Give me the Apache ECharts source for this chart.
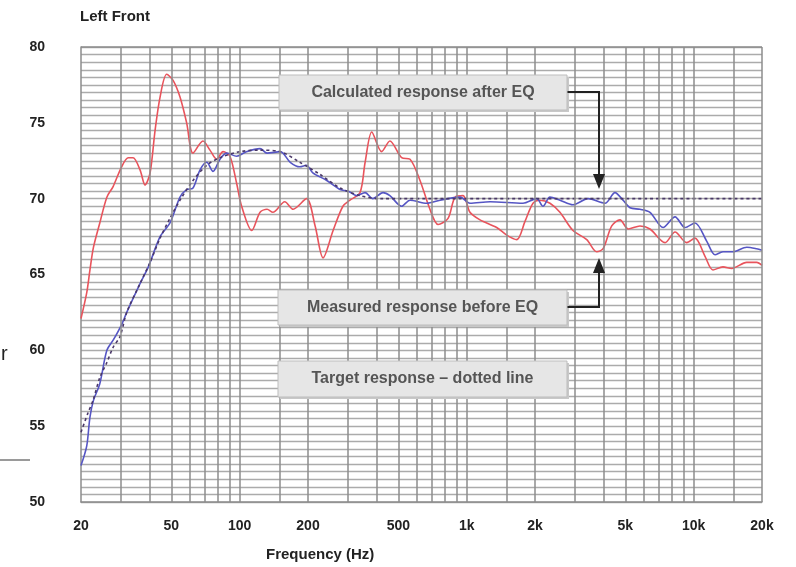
<!DOCTYPE html>
<html>
<head>
<meta charset="utf-8">
<title>Left Front</title>
<script src="https://cdn.jsdelivr.net/npm/echarts@6/dist/echarts.min.js"></script>
<style>
  html, body { margin: 0; padding: 0; background: #fff; }
  #main { width: 796px; height: 567px; }
</style>
</head>
<body>
<div id="main"></div>
<script>
// frequency (Hz) / level (dB)
const measuredFreq = [20, 21.2, 21.9, 22.7, 24.2, 26.0, 27.7, 30.2, 32.3, 33.9, 36.4, 38.3, 40.3, 42.4, 44.6, 47.7, 50.9, 54.6, 58.4, 62.3, 68.9, 74, 79.2, 84.5, 90.6, 97, 102, 113, 123, 132, 140, 158, 172, 197, 215, 233, 258, 285, 306, 339, 357, 382, 422, 459, 517, 563, 623, 689, 748, 828, 889, 964, 1034, 1145, 1356, 1501, 1661, 1807, 1960, 2104, 2328, 2576, 2940, 3380, 3740, 3990, 4356, 4736, 5152, 5802, 6420, 7480, 8280, 9312, 10136, 11220, 12160, 13460, 14710, 17130, 18950, 20000]
const measuredDb = [62.1, 63.8, 65.3, 66.8, 68.4, 70.1, 70.8, 72.1, 72.7, 72.7, 71.9, 70.9, 71.7, 74.5, 76.7, 78.2, 77.8, 76.7, 75.0, 73.0, 73.8, 73.2, 72.6, 73.1, 72.8, 71.0, 69.5, 67.9, 69.1, 69.3, 69.1, 69.8, 69.3, 70.0, 68.2, 66.1, 67.9, 69.5, 69.9, 70.4, 72.4, 74.4, 73.1, 73.8, 72.7, 72.6, 71.2, 69.3, 68.3, 68.7, 70.1, 70.2, 69.1, 68.6, 68.1, 67.6, 67.3, 68.5, 69.7, 69.9, 69.7, 69.1, 67.9, 67.3, 66.5, 66.7, 68.2, 68.6, 68.0, 68.2, 68.0, 67.1, 67.8, 67.1, 67.4, 66.2, 65.3, 65.5, 65.4, 65.8, 65.8, 65.6]

const afterFreq = [20, 21.2, 21.9, 22.7, 24.2, 26.0, 27.8, 30.2, 31.8, 36.4, 39.6, 44.6, 49.3, 54.6, 58.4, 62.3, 66.9, 71.6, 76.3, 81.9, 87.7, 97, 107, 123, 132, 151, 167, 184, 197, 210, 242, 277, 300, 328, 357, 386, 428, 459, 517, 563, 667, 763, 935, 1034, 1268, 1770, 2035, 2168, 2328, 2576, 2940, 3424, 4068, 4501, 4884, 5242, 5802, 6420, 7328, 8280, 9160, 10136, 11410, 12420, 13460, 14890, 17130, 18950, 20000]
const afterDb = [52.4, 53.7, 55.6, 56.7, 57.8, 60.0, 60.7, 61.7, 62.5, 64.4, 65.5, 67.5, 68.4, 70.1, 70.6, 70.7, 71.9, 72.4, 71.8, 72.6, 73.0, 72.8, 73.1, 73.3, 73.0, 73.1, 72.4, 72.1, 72.2, 71.7, 71.2, 70.6, 70.5, 70.2, 70.4, 70.0, 70.4, 70.2, 69.5, 69.9, 69.7, 69.9, 70.1, 69.7, 69.8, 69.7, 70.0, 69.5, 70.1, 69.9, 69.6, 70.0, 69.7, 70.4, 69.9, 69.4, 69.3, 69.1, 68.1, 68.8, 68.1, 68.4, 67.2, 66.3, 66.5, 66.5, 66.8, 66.7, 66.6]

const targetFreq = [20, 21.5, 22.6, 24.2, 26.0, 27.7, 29.7, 31.8, 36.4, 40.3, 44.6, 49.3, 54.6, 62.3, 71.6, 81.9, 100, 123, 151, 184, 226, 277, 339, 415, 1000, 5000, 20000]
const targetDb = [54.6, 55.9, 56.7, 58.2, 59.2, 60.2, 60.9, 62.5, 64.4, 65.8, 67.4, 68.7, 69.9, 71.2, 72.2, 72.7, 73.1, 73.2, 73.1, 72.4, 71.6, 70.7, 70.2, 70.0, 70.0, 70.0, 70.0]

const gridFreqs = [30, 40, 50, 60, 70, 80, 90, 100, 150, 200, 300, 400, 500, 600, 700, 800, 900, 1000, 1500, 2000, 3000, 4000, 5000, 6000, 7000, 8000, 9000, 10000, 15000]
const tickFreqs = [20, 50, 100, 200, 500, 1000, 2000, 5000, 10000, 20000]

const narrow = '"Liberation Sans Narrow", "Liberation Sans", Arial, sans-serif'

function pairs(xs, ys) {
  return xs.map(function(x, i) { return [x, ys[i]] })
}

function box(x, y, w, h, text) {
  return {
    type: 'group',
    z: 100,
    children: [
      { type: 'rect', z: 100, shape: { x: x + 2, y: y + 2, width: w, height: h }, style: { fill: '#c8c8c8' } },
      { type: 'rect', z: 101, shape: { x: x, y: y, width: w, height: h }, style: { fill: '#e6e6e6', stroke: '#bdbdbd', lineWidth: 1 } },
      { type: 'text', z: 102, x: x + w / 2, y: y + h / 2, style: { text: text, fill: '#555', font: 'bold 16px ' + narrow, align: 'center', verticalAlign: 'middle' } }
    ]
  }
}

const myChart = echarts.init(document.getElementById('main'))
const option = {
  backgroundColor: '#fff',
  animation: false,
  grid: { left: 81, right: 34, top: 47, bottom: 65 },
  xAxis: {
    type: 'log',
    logBase: 10,
    min: 20,
    max: 20000,
    axisLine: { show: true, lineStyle: { color: '#8c8c8c', width: 1.5 } },
    axisTick: { show: false },
    splitLine: { show: false },
    axisLabel: {
      customValues: tickFreqs,
      margin: 17,
      color: '#222',
      fontWeight: 'bold',
      fontSize: 14,
      fontFamily: narrow,
      formatter: function(v) { return v >= 1000 ? (v / 1000) + 'k' : String(v) }
    }
  },
  yAxis: {
    type: 'value',
    min: 50,
    max: 80,
    interval: 0.5,
    axisLine: { show: true, lineStyle: { color: '#8c8c8c', width: 1.5 } },
    axisTick: { show: false },
    splitLine: { show: true, lineStyle: { color: '#ababab', width: 1.3 } },
    axisLabel: {
      margin: 36,
      color: '#222',
      fontWeight: 'bold',
      fontSize: 14,
      fontFamily: narrow,
      formatter: function(v) { return v % 5 === 0 ? String(v) : '' }
    }
  },
  series: [
    {
      // vertical grid lines at 1, 1.5, 2..9 per decade
      name: 'grid',
      type: 'line',
      data: [],
      silent: true,
      z: 1,
      markLine: {
        silent: true,
        symbol: ['none', 'none'],
        label: { show: false },
        lineStyle: { color: '#8c8c8c', width: 1.5, type: 'solid' },
        data: gridFreqs.map(function(f) { return { xAxis: f } }).concat([{ xAxis: 20000 }, { yAxis: 80 }])
      }
    },
    {
      name: 'Measured',
      type: 'line',
      data: pairs(measuredFreq, measuredDb),
      smooth: 0.3,
      showSymbol: false,
      lineStyle: { color: '#e8545c', width: 1.6 }
    },
    {
      name: 'After EQ',
      type: 'line',
      data: pairs(afterFreq, afterDb),
      smooth: 0.3,
      showSymbol: false,
      lineStyle: { color: '#5656c4', width: 1.6 }
    },
    {
      name: 'Target',
      type: 'line',
      data: pairs(targetFreq, targetDb),
      smooth: 0.3,
      showSymbol: false,
      lineStyle: { color: '#4a3868', width: 1.6, type: [3, 3] }
    }
  ],
  graphic: [
    { type: 'text', left: 80, top: 9, style: { text: 'Left Front', fill: '#222', font: 'bold 15px ' + narrow } },
    { type: 'text', left: 266, top: 547, style: { text: 'Frequency (Hz)', fill: '#222', font: 'bold 15px ' + narrow } },
    box(279, 75, 288, 35, 'Calculated response after EQ'),
    box(278, 290, 289, 35, 'Measured response before EQ'),
    box(278, 361, 289, 36, 'Target response \u2013 dotted line'),
    { type: 'polyline', z: 100, shape: { points: [[567, 92], [599, 92], [599, 178]] }, style: { stroke: '#222', lineWidth: 2, fill: null } },
    { type: 'polygon', z: 100, shape: { points: [[593, 174], [605, 174], [599, 189]] }, style: { fill: '#222' } },
    { type: 'polyline', z: 100, shape: { points: [[567, 307], [599, 307], [599, 270]] }, style: { stroke: '#222', lineWidth: 2, fill: null } },
    { type: 'polygon', z: 100, shape: { points: [[593, 273], [605, 273], [599, 258]] }, style: { fill: '#222' } },
    // bits of the neighbouring figure at the left edge
    { type: 'text', left: 1, top: 344, style: { text: 'r', fill: '#222', font: '20px "Liberation Sans", sans-serif' } },
    { type: 'line', shape: { x1: 0, y1: 460, x2: 30, y2: 460 }, style: { stroke: '#9a9a9a', lineWidth: 2 } }
  ]
}
myChart.setOption(option)
</script>
</body>
</html>
